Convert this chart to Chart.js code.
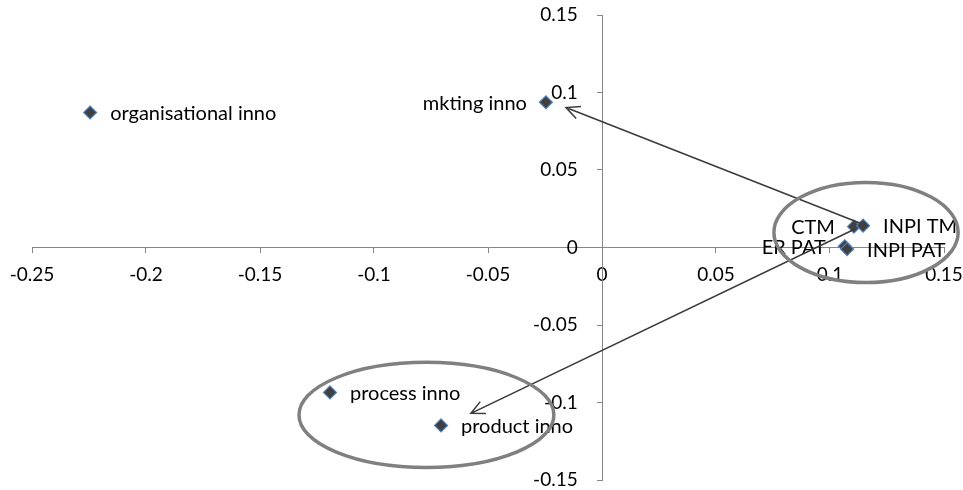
<!DOCTYPE html>
<html>
<head>
<meta charset="utf-8">
<script src="https://cdn.jsdelivr.net/npm/chart.js@4/dist/chart.umd.min.js"></script>
<style>
  html, body { margin: 0; padding: 0; background: #fff; }
  #wrap { width: 963px; height: 490px; }
</style>
</head>
<body>
<div id="wrap"><canvas id="chart" width="963" height="490"></canvas></div>
<script>
// points of the map (x = dim 1, y = dim 2)
var names = ["organisational inno", "mkting inno", "CTM", "INPI TM", "ER PAT", "INPI PAT", "process inno", "product inno"];
var xVals = [-0.2245, -0.0246, 0.1105, 0.1145, 0.1065, 0.1075, -0.1193, -0.0706];
var yVals = [0.0871, 0.0937, 0.0135, 0.0141, 0.0008, -0.0010, -0.0935, -0.1148];
var labelSide = ["right", "left", "left", "right", "left", "right", "right", "right"];

var xTicks = [-0.25, -0.2, -0.15, -0.1, -0.05, 0, 0.05, 0.1, 0.15];
var yTicks = [-0.15, -0.1, -0.05, 0, 0.05, 0.1, 0.15];

// annotations, in data units
var arrows = [
  { from: [0.1136, 0.0155], to: [-0.0158, 0.0903] },
  { from: [0.1105, 0.0116], to: [-0.0575, -0.1070] }
];
var ellipses = [
  { cx: 0.1158, cy: 0.0097, rx: 0.0404, ry: 0.0323 },
  { cx: -0.0770, cy: -0.1080, rx: 0.0559, ry: 0.0339 }
];

var FONT = "Lato, 'Open Sans', sans-serif";

function fmt(v) {
  return String(Number(v.toFixed(2)));
}

// y labels sit right on the axis line when the axis is placed at x=0,
// so push them off with a few trailing spaces
var Y_GAP = "     ";

var pts = names.map(function (n, i) { return { x: xVals[i], y: yVals[i] }; });

function noScalePadding(s) {
  s.paddingTop = 0; s.paddingBottom = 0; s.paddingLeft = 0; s.paddingRight = 0;
}

var annotPlugin = {
  id: "annot",
  afterDatasetsDraw: function (chart) {
    var ctx = chart.ctx, xs = chart.scales.x, ys = chart.scales.y;
    ctx.save();
    // point labels
    ctx.font = "20px " + FONT;
    ctx.fillStyle = "#000";
    ctx.textBaseline = "middle";
    names.forEach(function (n, i) {
      var px = xs.getPixelForValue(xVals[i]);
      var py = ys.getPixelForValue(yVals[i]) + 1;
      if (labelSide[i] === "left") {
        ctx.textAlign = "right";
        ctx.fillText(n, px - 19, py);
      } else {
        ctx.textAlign = "left";
        ctx.fillText(n, px + 20, py);
      }
    });
    // arrows
    ctx.strokeStyle = "#3a3a3a";
    ctx.lineWidth = 1.5;
    arrows.forEach(function (a) {
      var x1 = xs.getPixelForValue(a.from[0]), y1 = ys.getPixelForValue(a.from[1]);
      var x2 = xs.getPixelForValue(a.to[0]), y2 = ys.getPixelForValue(a.to[1]);
      var ang = Math.atan2(y2 - y1, x2 - x1);
      var hl = 15, spread = 0.45;
      ctx.beginPath();
      ctx.moveTo(x1, y1);
      ctx.lineTo(x2, y2);
      ctx.moveTo(x2 - hl * Math.cos(ang - spread), y2 - hl * Math.sin(ang - spread));
      ctx.lineTo(x2, y2);
      ctx.lineTo(x2 - hl * Math.cos(ang + spread), y2 - hl * Math.sin(ang + spread));
      ctx.stroke();
    });
    // ellipses
    ctx.strokeStyle = "#808080";
    ctx.lineWidth = 3.5;
    ellipses.forEach(function (e) {
      var cx = xs.getPixelForValue(e.cx), cy = ys.getPixelForValue(e.cy);
      var rx = Math.abs(xs.getPixelForValue(e.cx + e.rx) - cx);
      var ry = Math.abs(ys.getPixelForValue(e.cy + e.ry) - cy);
      ctx.beginPath();
      ctx.ellipse(cx, cy, rx, ry, 0, 0, Math.PI * 2);
      ctx.stroke();
    });
    ctx.restore();
  }
};

new Chart(document.getElementById("chart"), {
  type: "scatter",
  data: {
    datasets: [{
      label: "map",
      data: pts,
      pointStyle: "rectRot",
      pointRadius: 6.5,
      pointHoverRadius: 6.5,
      backgroundColor: "#404040",
      borderColor: "#4f81bd",
      borderWidth: 1.2
    }]
  },
  options: {
    responsive: false,
    animation: false,
    events: [],
    layout: { padding: { left: 32, right: 19, top: 15, bottom: 10 } },
    plugins: { legend: { display: false }, tooltip: { enabled: false } },
    scales: {
      x: {
        type: "linear",
        position: { y: 0 },
        min: xTicks[0],
        max: xTicks[xTicks.length - 1],
        afterBuildTicks: function (s) { s.ticks = xTicks.map(function (v) { return { value: v }; }); },
        afterFit: noScalePadding,
        grid: { drawOnChartArea: false, drawTicks: true, tickLength: 5, color: "#868686", lineWidth: 1 },
        border: { color: "#868686", width: 1 },
        ticks: {
          color: "#000",
          font: { family: FONT, size: 19 },
          padding: 11,
          maxRotation: 0,
          autoSkip: false,
          callback: function (v) { return fmt(v); }
        }
      },
      y: {
        type: "linear",
        position: { x: 0 },
        min: yTicks[0],
        max: yTicks[yTicks.length - 1],
        afterBuildTicks: function (s) { s.ticks = yTicks.map(function (v) { return { value: v }; }); },
        afterFit: noScalePadding,
        grid: { drawOnChartArea: false, drawTicks: true, tickLength: 5, color: "#868686", lineWidth: 1 },
        border: { color: "#868686", width: 1 },
        ticks: {
          color: "#000",
          font: { family: FONT, size: 19 },
          padding: 14,
          autoSkip: false,
          callback: function (v) { return fmt(v) + Y_GAP; }
        }
      }
    }
  },
  plugins: [annotPlugin]
});
</script>
</body>
</html>
